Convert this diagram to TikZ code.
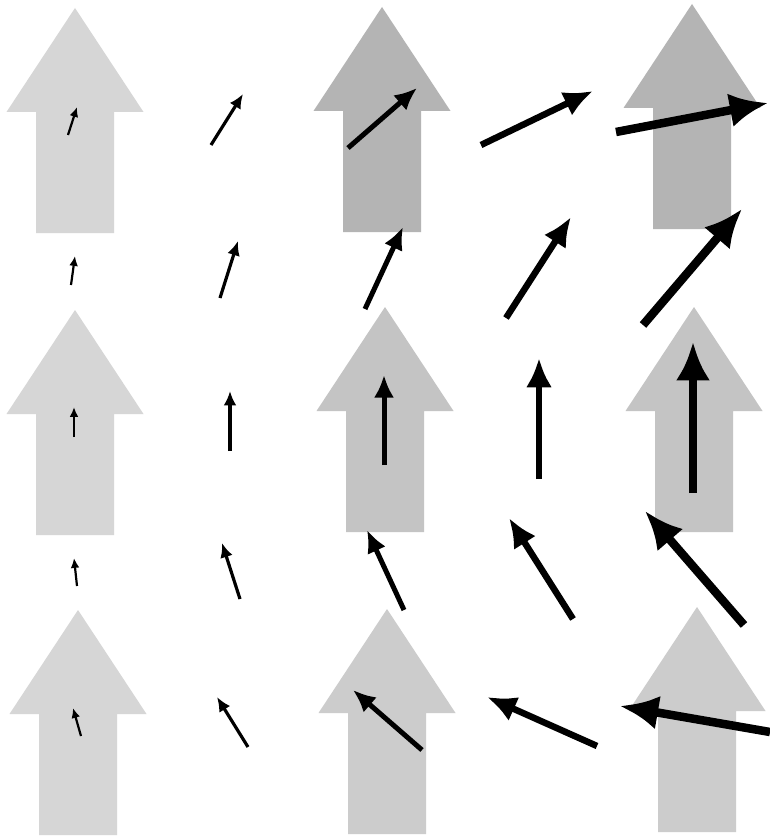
\documentclass[tikz,border=0pt]{standalone}
\usepackage{tikz}
\usetikzlibrary{arrows.meta}
\usepackage{xcolor}
\definecolor{paleblock}{HTML}{D6D6D6}
\definecolor{darkblock}{HTML}{B4B4B4}
\definecolor{midblock}{HTML}{C4C4C4}
\definecolor{lightblock}{HTML}{CCCCCC}

\begin{document}
\begin{tikzpicture}[x=1pt,y=-1pt,
  vec/.style={-{Latex[length=0pt 4.5,width=0pt 4]},black},
  vecxs/.style={vec,line width=2.2pt},
  vecs/.style={vec,line width=3.2pt},
  vecm/.style={vec,line width=5pt},
  vecl/.style={vec,line width=6.5pt},
  vecxl/.style={vec,line width=8.5pt},
  block/.pic={\fill[pic actions] (0,0) -- (68.5,104) -- (39,104) -- (39,225) -- (-39,225) -- (-39,104) -- (-68.5,104) -- cycle;}
]
  \useasboundingbox[fill=white] (0,0) rectangle (770,837);
  % big grey arrows
  \pic[fill=paleblock] (up11) at (75,8) {block};
  \pic[fill=darkblock] (up13) at (382,7) {block};
  \pic[fill=darkblock] (up15) at (692,4) {block};
  \pic[fill=paleblock] (up31) at (75,310) {block};
  \pic[fill=midblock] (up33) at (385,307) {block};
  \pic[fill=midblock] (up35) at (694,307) {block};
  \pic[fill=paleblock] (up51) at (78,610) {block};
  \pic[fill=lightblock] (up53) at (387,609) {block};
  \pic[fill=lightblock] (up55) at (697,607) {block};
  % row 1
  \draw[vecxs] (68,135) -- (77,107);
  \draw[vecs] (211,145) -- (243,94);
  \draw[vecm] (348,148) -- (417,88);
  \draw[vecl] (481,145) -- (593,91);
  \draw[vecxl] (616,132) -- (768,103);
  % row 2
  \draw[vecxs] (71,285) -- (75,256);
  \draw[vecs] (220,298) -- (238,241);
  \draw[vecm] (365,309) -- (403,227);
  \draw[vecl] (506,318) -- (571,217);
  \draw[vecxl] (643,325) -- (742,209);
  % row 3
  \draw[vecxs] (74,437) -- (74,407);
  \draw[vecs] (230,451) -- (230,391);
  \draw[vecm] (384,465) -- (384,375);
  \draw[vecl] (539,479) -- (539,358);
  \draw[vecxl] (693,493) -- (693,342);
  % row 4
  \draw[vecxs] (77,586) -- (74,558);
  \draw[vecs] (240,599) -- (222,543);
  \draw[vecm] (404,610) -- (367,530);
  \draw[vecl] (573,619) -- (509,518);
  \draw[vecxl] (744,625) -- (645,511);
  % row 5
  \draw[vecxs] (81,736) -- (73,708);
  \draw[vecs] (248,747) -- (217,697);
  \draw[vecm] (422,750) -- (353,690);
  \draw[vecl] (597,746) -- (487,697);
  \draw[vecxl] (770,732) -- (620,706);
\end{tikzpicture}
\end{document}
